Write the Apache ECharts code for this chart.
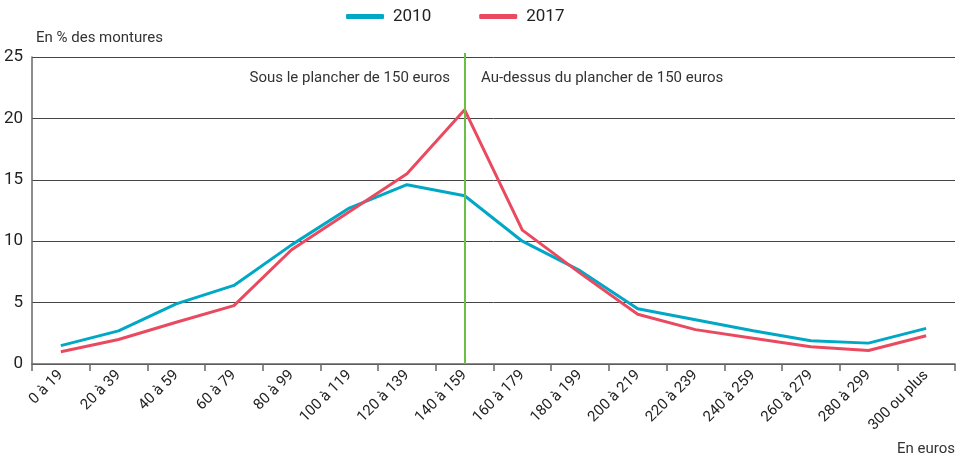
<!DOCTYPE html>
<html>
<head>
<meta charset="utf-8">
<script src="https://cdn.jsdelivr.net/npm/echarts@6/dist/echarts.min.js"></script>
<style>
  html, body { margin: 0; padding: 0; background: #fff; }
  #chart { width: 964px; height: 461px; }
</style>
</head>
<body>
<div id="chart"></div>
<script>
var categories = ['0 à 19', '20 à 39', '40 à 59', '60 à 79', '80 à 99', '100 à 119', '120 à 139', '140 à 159',
                  '160 à 179', '180 à 199', '200 à 219', '220 à 239', '240 à 259', '260 à 279', '280 à 299', '300 ou plus'];
var values2010 = [1.5, 2.7, 4.9, 6.4, 9.7, 12.7, 14.6, 13.7, 10.0, 7.6, 4.5, 3.6, 2.7, 1.9, 1.7, 2.9];
var values2017 = [1.0, 2.0, 3.4, 4.75, 9.3, 12.4, 15.5, 20.7, 10.9, 7.4, 4.05, 2.8, 2.1, 1.4, 1.1, 2.3];
var plancherCat = '140 à 159';

var font = 'Roboto, "Liberation Sans Narrow", sans-serif';
var blue = '#00a8c6', red = '#ea4a60', green = '#6cbf45';

var myChart = echarts.init(document.getElementById('chart'));

var option = {
    animation: false,
    textStyle: { fontFamily: font },
    legend: {
        top: 3,
        left: 341,
        itemWidth: 38,
        itemHeight: 5,
        itemGap: 48,
        icon: 'roundRect',
        textStyle: { fontSize: 17, color: '#222', fontFamily: font, padding: [0, 0, 0, 4] },
        data: ['2010', '2017']
    },
    grid: { left: 32, right: 9, top: 57, bottom: 97, containLabel: false },
    xAxis: {
        type: 'category',
        data: categories,
        boundaryGap: true,
        axisLine: { lineStyle: { color: '#666', width: 1.5 } },
        axisTick: { show: true, length: 7, lineStyle: { color: '#666', width: 1.5 } },
        axisLabel: { rotate: 45, fontSize: 15, color: '#222', margin: 9, interval: 0 },
        name: 'En euros',
        nameLocation: 'end',
        nameGap: 0,
        nameTextStyle: { fontSize: 15, color: '#333', align: 'right', verticalAlign: 'top', padding: [78, 0, 0, 0] }
    },
    yAxis: {
        type: 'value',
        min: 0,
        max: 25,
        interval: 5,
        axisLine: { show: true, lineStyle: { color: '#666', width: 1.5 } },
        axisTick: { show: false },
        splitLine: { lineStyle: { color: '#444', width: 1 } },
        axisLabel: { fontSize: 17, color: '#222', margin: 9 },
        name: 'En % des montures',
        nameLocation: 'end',
        nameGap: 11,
        nameTextStyle: { fontSize: 15, color: '#333', align: 'left', padding: [0, 0, 0, 4] }
    },
    series: [
        {
            name: '2010',
            type: 'line',
            data: values2010,
            symbol: 'none',
            lineStyle: { color: blue, width: 3 },
            itemStyle: { color: blue }
        },
        {
            name: '2017',
            type: 'line',
            data: values2017,
            symbol: 'none',
            lineStyle: { color: red, width: 3 },
            itemStyle: { color: red },
            markLine: {
                silent: true,
                symbol: 'none',
                label: { show: false },
                lineStyle: { color: green, width: 2, type: 'solid' },
                data: [[{ xAxis: plancherCat, y: 53 }, { xAxis: plancherCat, yAxis: 0 }]]
            }
        }
    ],
    graphic: [
        { type: 'text', right: 514, top: 71, style: { text: 'Sous le plancher de 150 euros', fill: '#333', font: '15px ' + font } },
        { type: 'text', left: 481, top: 71, style: { text: 'Au-dessus du plancher de 150 euros', fill: '#333', font: '15px ' + font } }
    ]
};

myChart.setOption(option);
</script>
</body>
</html>
